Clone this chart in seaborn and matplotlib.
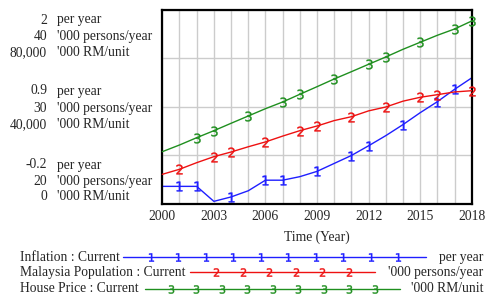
import numpy as np
import matplotlib
matplotlib.use("Agg")
import matplotlib.pyplot as plt
from matplotlib.lines import Line2D
import seaborn as sns

# data
years = list(range(2000, 2019))
inflation = [0.0, 0.0, 0.0, -0.17, -0.12, -0.05, 0.07, 0.07, 0.11, 0.17, 0.26,
             0.35, 0.46, 0.575, 0.70, 0.835, 0.96, 1.10, 1.23]
population = [23.06, 23.58, 24.26, 24.88, 25.36, 25.9, 26.4, 27.0, 27.56, 28.04,
              28.6, 29.0, 29.6, 30.0, 30.6, 31.0, 31.27, 31.55, 31.68]
house_price = [21570, 24330, 27340, 30230, 33280, 36290, 39300, 42060, 45240,
               48370, 51550, 54560, 57610, 60620, 63790, 66680, 69570, 72160, 75460]

series_names = ["Inflation : Current", "Malaysia Population : Current", "House Price : Current"]
units = ["per year", "'000 persons/year", "'000 RM/unit"]
ranges = [(-0.2, 2), (20, 40), (0, 80000)]
range_labels = [["-0.2", "0.9", "2"], ["20", "30", "40"], ["0", "40,000", "80,000"]]
xticks = [2000, 2003, 2006, 2009, 2012, 2015, 2018]

colors = ["#1f1fff", "#ee1111", "#1f8f1f"]
marks = ["$1$", "$2$", "$3$"]
mark_idx = [[1, 2, 4, 6, 7, 9, 11, 12, 14, 16, 17],
            [1, 3, 4, 6, 8, 9, 11, 13, 15, 16, 18],
            [2, 3, 5, 7, 8, 10, 12, 13, 15, 17, 18]]

sns.set_style("white")
plt.rcParams["font.family"] = ["Liberation Serif", "DejaVu Serif"]
fs = 9.8

fig = plt.figure(figsize=(4.86, 2.96), dpi=100)
ax = fig.add_axes([162.3 / 486, 1 - 204 / 296, 309.4 / 486, 194 / 296])
axes = [ax, ax.twinx(), ax.twinx()]

# grid on main axis
ax.set_xlim(2000, 2018)
ax.set_xticks(years)
ax.set_yticks(np.linspace(*ranges[0], 5))
ax.grid(True, color="#cccccc", lw=1)
ax.set_xticklabels([])
ax.set_yticklabels([])
ax.tick_params(length=0)
for s in ax.spines.values():
    s.set_color("black")
    s.set_linewidth(1.6)

data = [inflation, population, house_price]
for a, y, rng, c, m, idx in zip(axes, data, ranges, colors, marks, mark_idx):
    sns.lineplot(x=years, y=y, ax=a, color=c, lw=1, marker=m, markersize=7,
                 markevery=idx, markeredgewidth=0.3, markeredgecolor=c,
                 clip_on=False)
    a.set_ylim(*rng)
    a.set_xlim(2000, 2018)
    if a is not ax:
        a.set_yticks([])
        a.axis("off")

for t in xticks:
    ax.text(t, -0.03, str(t), transform=ax.get_xaxis_transform(), ha="center",
            va="top", fontsize=fs)
ax.text(0.5, -0.135, "Time (Year)", transform=ax.transAxes, ha="center",
        va="top", fontsize=fs)

# stacked left-hand scale labels (Vensim style)
group_y = [[165, 181.7, 196.7], [91, 108.3, 124.3], [20, 36.7, 52.3]]
for g, rows in enumerate(group_y):
    for k, yy in enumerate(rows):
        fig.text(47 / 486, 1 - yy / 296, range_labels[k][g], ha="right",
                 va="center", fontsize=fs)
        fig.text(57 / 486, 1 - yy / 296, units[k], ha="left", va="center",
                 fontsize=fs)

# legend rows at the bottom
leg = [(257.3, 123, 426), (272.3, 190, 375), (289, 145, 400)]
for k, (yy, x0, x1) in enumerate(leg):
    yf = 1 - yy / 296
    fig.text(20 / 486, yf, series_names[k], ha="left", va="center", fontsize=fs)
    fig.text(483 / 486, yf, units[k], ha="right", va="center", fontsize=fs)
    n = [12, 8, 11][k]
    xs = np.linspace(x0, x1, n) / 486
    fig.add_artist(Line2D(xs, [yf] * n, color=colors[k], lw=1, marker=marks[k],
                          markersize=6, markevery=list(range(1, n - 1)),
                          markeredgewidth=0.3, transform=fig.transFigure))

fig.savefig("out.png", dpi=100)
